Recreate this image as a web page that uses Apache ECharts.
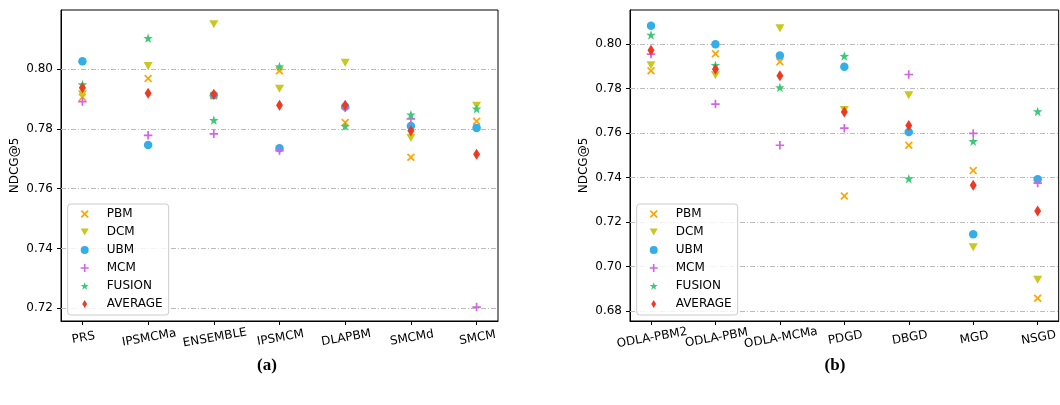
<!DOCTYPE html>
<html><head><meta charset="utf-8">
<script src="https://cdn.jsdelivr.net/npm/echarts@6/dist/echarts.min.js"></script>
<style>html,body{margin:0;padding:0;background:#fff}#c{width:1060px;height:405px}</style>
</head><body><div id="c"></div>
<script>
// ---- data ----
const seriesNames = ['PBM', 'DCM', 'UBM', 'MCM', 'FUSION', 'AVERAGE'];

const categoriesA = ['PRS', 'IPSMCMa', 'ENSEMBLE', 'IPSMCM', 'DLAPBM', 'SMCMd', 'SMCM'];
const pbmA     = [0.7905, 0.7968, 0.7910, 0.7994, 0.7821, 0.7705, 0.7825];
const dcmA     = [0.7915, 0.8010, 0.8149, 0.7934, 0.8021, 0.7769, 0.7877];
const ubmA     = [0.8026, 0.7746, 0.7912, 0.7735, 0.7874, 0.7809, 0.7803];
const mcmA     = [0.7891, 0.7778, 0.7783, 0.7727, 0.7870, 0.7833, 0.7204];
const fusionA  = [0.7948, 0.8103, 0.7829, 0.8008, 0.7809, 0.7847, 0.7867];
const averageA = [0.7937, 0.7919, 0.7915, 0.7879, 0.7879, 0.7793, 0.7715];
const yTicksA  = [0.72, 0.74, 0.76, 0.78, 0.80];

const categoriesB = ['ODLA-PBM2', 'ODLA-PBM', 'ODLA-MCMa', 'PDGD', 'DBGD', 'MGD', 'NSGD'];
const pbmB     = [0.7880, 0.7956, 0.7920, 0.7317, 0.7545, 0.7431, 0.6857];
const dcmB     = [0.7905, 0.7860, 0.8071, 0.7703, 0.7770, 0.7087, 0.6940];
const ubmB     = [0.8082, 0.7999, 0.7949, 0.7898, 0.7605, 0.7145, 0.7392];
const mcmB     = [0.7955, 0.7730, 0.7545, 0.7622, 0.7863, 0.7598, 0.7375];
const fusionB  = [0.8041, 0.7905, 0.7805, 0.7946, 0.7395, 0.7563, 0.7697];
const averageB = [0.7972, 0.7887, 0.7857, 0.7695, 0.7634, 0.7365, 0.7249];
const yTicksB  = [0.68, 0.70, 0.72, 0.74, 0.76, 0.78, 0.80];

// ---- styles ----
const colors = ['#ffa500', '#c8c81e', '#33aee8', '#d563e8', '#3ec878', '#ee3a22'];
const X_PATH = 'path://M0,1.5L1.5,0L5,3.5L8.5,0L10,1.5L6.5,5L10,8.5L8.5,10L5,6.5L1.5,10L0,8.5L3.5,5Z';
const PLUS_PATH = 'path://M4,0H6V4H10V6H6V10H4V6H0V4H4Z';
const TRI_DOWN = 'path://M0,0L10,0L5,8.66Z';
const STAR = 'path://M5,0L6.18,3.38L9.76,3.45L6.9,5.62L7.94,9.05L5,7L2.06,9.05L3.1,5.62L0.24,3.45L3.82,3.38Z';
const DIAMOND = 'path://M3,0L6,5L3,10L0,5Z';
const symbols = [X_PATH, TRI_DOWN, 'circle', PLUS_PATH, STAR, DIAMOND];
const sizes = [8, [9, 8], 8.5, 8.5, 9.5, [7, 11]];
const FONT = 'DejaVu Sans';
const gridColor = '#bcbcbc';

const dataA = [pbmA, dcmA, ubmA, mcmA, fusionA, averageA];
const dataB = [pbmB, dcmB, ubmB, mcmB, fusionB, averageB];

function makeSeries(all, idx, yTicks) {
  return all.map((arr, k) => {
    const s = {
      type: 'scatter', name: seriesNames[k],
      xAxisIndex: idx, yAxisIndex: idx,
      symbol: symbols[k], symbolSize: sizes[k],
      itemStyle: { color: colors[k], opacity: 1 },
      data: arr.map((v, i) => [i, v]),
      z: 3 + k, silent: true, animation: false
    };
    if (k === 0) {
      s.markLine = {
        silent: true, symbol: ['none', 'none'], z: 1, animation: false,
        label: { show: false },
        lineStyle: { color: gridColor, type: [5, 2, 1, 2], width: 1 },
        data: yTicks.map(t => ({ yAxis: t }))
      };
    }
    return s;
  });
}

// even/odd split so neighbouring rotated labels are never dropped as overlapping
function xAxis(idx, cats, parity) {
  const ticks = cats.map((c, i) => i).filter(i => i % 2 === parity);
  return {
    type: 'value', gridIndex: idx, position: 'bottom', offset: 0,
    min: -0.326, max: 6.326,
    splitLine: { show: false },
    axisLine: { show: parity === 0, onZero: false, lineStyle: { color: '#000', width: 1 } },
    axisTick: { show: true, customValues: ticks, length: 4, lineStyle: { color: '#000' } },
    axisLabel: {
      customValues: ticks, formatter: v => cats[Math.round(v)],
      showMinLabel: true, showMaxLabel: true, hideOverlap: false,
      rotate: 10, align: 'center', verticalAlign: 'top', margin: 11,
      fontSize: 12, fontFamily: FONT, color: '#000'
    }
  };
}

function yAxis(idx, min, max, ticks) {
  return {
    type: 'value', gridIndex: idx, min: min, max: max,
    splitLine: { show: false },
    axisLine: { show: true, onZero: false, lineStyle: { color: '#000', width: 1 } },
    axisTick: { show: true, customValues: ticks, length: 4, lineStyle: { color: '#000' } },
    axisLabel: {
      customValues: ticks, formatter: v => v.toFixed(2), margin: 8,
      showMinLabel: true, showMaxLabel: true,
      fontSize: 12, fontFamily: FONT, color: '#000'
    },
    name: 'NDCG@5', nameLocation: 'middle', nameGap: 40,
    nameTextStyle: { fontSize: 12, fontFamily: FONT, color: '#000' }
  };
}

const legendIcons = [X_PATH, TRI_DOWN, 'circle', PLUS_PATH, STAR, DIAMOND];
const legendData = seriesNames.map((n, k) => ({ name: n, icon: legendIcons[k] }));
function legend(left) {
  return {
    data: legendData, left: left, top: 204, orient: 'vertical',
    itemWidth: 8, itemHeight: 8, itemGap: 0, symbolKeepAspect: true,
    padding: [1, 6, 2, 13], selectedMode: false,
    textStyle: { fontSize: 12, lineHeight: 18, color: '#000', fontFamily: FONT, padding: [0, 0, 0, 13] },
    borderColor: '#cccccc', borderWidth: 1, borderRadius: 3,
    backgroundColor: 'rgba(255,255,255,0.8)'
  };
}

const chart = echarts.init(document.getElementById('c'), null, { renderer: 'canvas' });
chart.setOption({
  backgroundColor: '#fff',
  animation: false,
  grid: [
    { left: 61, top: 10, width: 437, height: 311, show: true, borderColor: '#000', borderWidth: 1, backgroundColor: 'transparent' },
    { left: 630, top: 10, width: 436, height: 311, show: true, borderColor: '#000', borderWidth: 1, backgroundColor: 'transparent' }
  ],
  xAxis: [xAxis(0, categoriesA, 0), xAxis(1, categoriesB, 0), xAxis(0, categoriesA, 1), xAxis(1, categoriesB, 1)],
  yAxis: [yAxis(0, 0.71575, 0.8197, yTicksA), yAxis(1, 0.6755, 0.8153, yTicksB)],
  legend: [legend(67.7), legend(636.7)],
  series: makeSeries(dataA, 0, yTicksA).concat(makeSeries(dataB, 1, yTicksB)),
  graphic: [
    { type: 'text', x: 267, y: 366, style: { text: '(a)', font: 'bold 17px "Liberation Serif"', align: 'center', verticalAlign: 'middle', textAlign: 'center', textVerticalAlign: 'middle', fill: '#000' } },
    { type: 'text', x: 835, y: 366, style: { text: '(b)', font: 'bold 17px "Liberation Serif"', align: 'center', verticalAlign: 'middle', textAlign: 'center', textVerticalAlign: 'middle', fill: '#000' } }
  ]
});
</script>
</body></html>
